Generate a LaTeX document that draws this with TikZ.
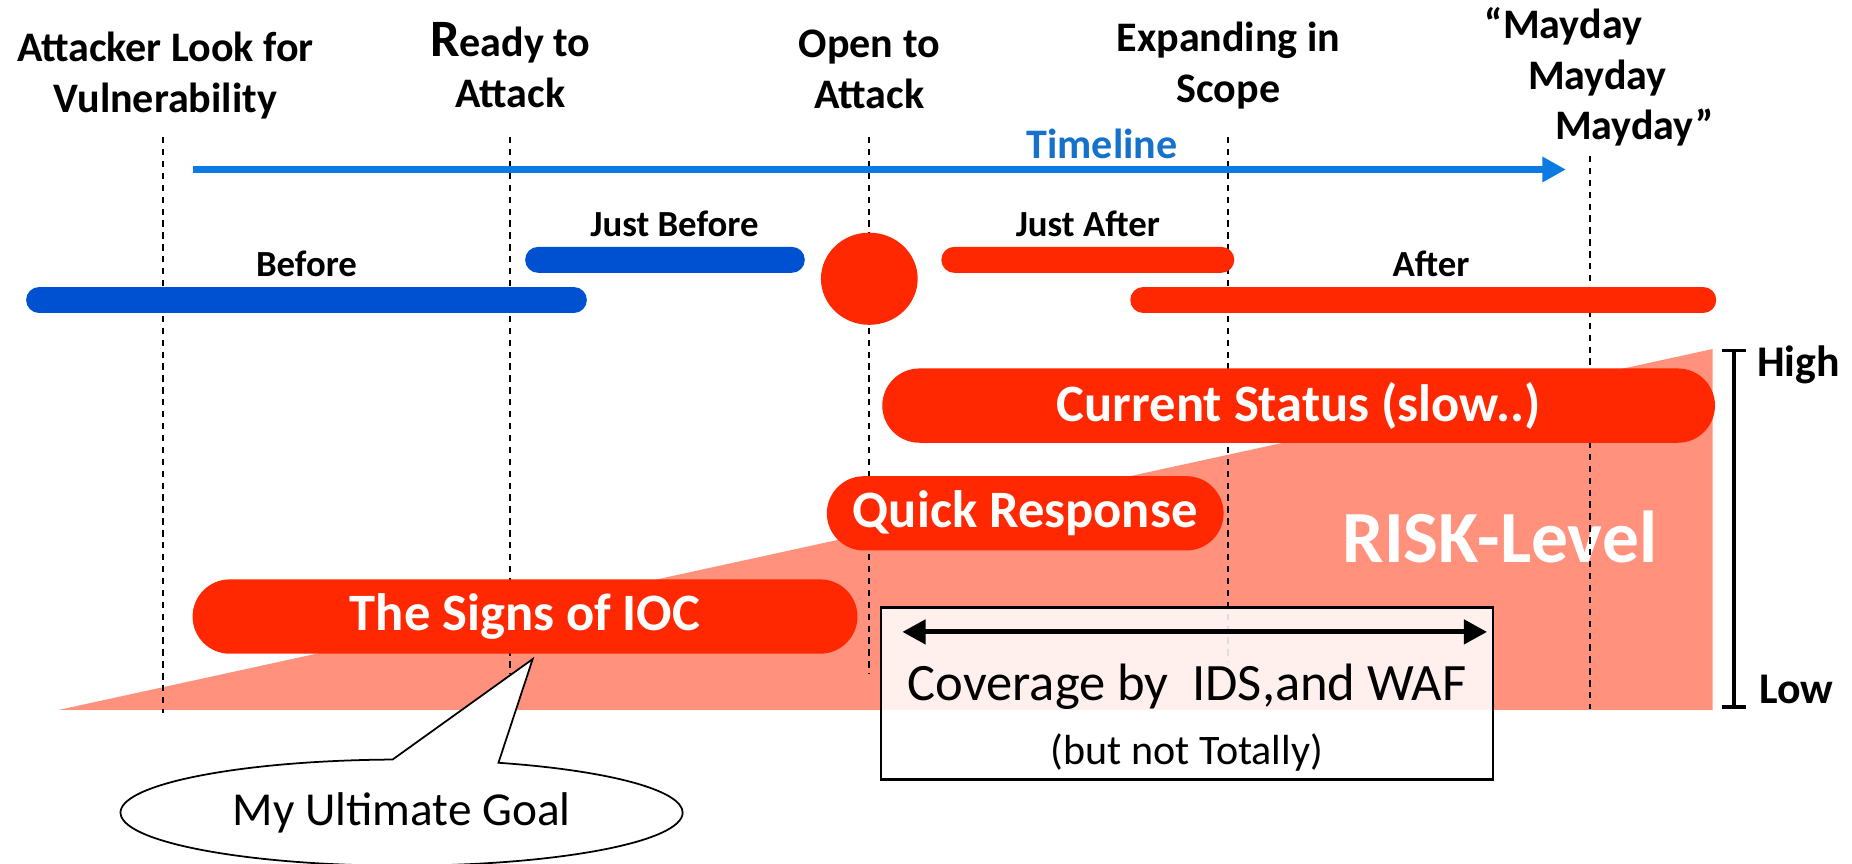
\documentclass[tikz,border=0pt]{standalone}
\usepackage{fontspec}
\setmainfont{Carlito}
\usepackage{tikz}
\usetikzlibrary{arrows.meta,positioning,calc,shapes.geometric,shapes.misc,shapes.callouts}
\definecolor{tlblue}{HTML}{0B7BE3}
\definecolor{tltext}{HTML}{1571C9}
\definecolor{phaseblue}{HTML}{0050D2}
\definecolor{alarm}{HTML}{FF2800}
\definecolor{risk}{HTML}{FF917D}
\tikzset{
  milestone/.style={font=\fontsize{12}{14.5}\selectfont\bfseries,align=center,
    inner sep=0pt,anchor=base},
  guide/.style={draw=black,line width=0.55pt,dash pattern=on 1.8pt off 1.6pt},
  timeline/.style={draw=tlblue,line width=2.2pt,-{Triangle[length=6.7pt,width=6.9pt]}},
  phasebar/.style={rounded rectangle,minimum height=7.4pt,inner sep=0pt},
  phaselabel/.style={font=\fontsize{10.5}{12}\selectfont\bfseries,inner sep=0pt},
  pill/.style={rounded rectangle,fill=alarm,text=white,minimum height=21.2pt,
    inner sep=0pt,font=\fontsize{15}{18}\selectfont\bfseries},
  coverbox/.style={draw=black,line width=0.8pt,fill=white,fill opacity=0.87,
    minimum width=174.6pt,minimum height=49.2pt,inner sep=0pt},
  span/.style={line width=1.4pt,{Triangle[length=6.6pt,width=6.8pt]}-{Triangle[length=6.6pt,width=6.8pt]}},
  scalebar/.style={line width=0.95pt,{Bar[width=6.7pt]}-{Bar[width=6.7pt]}},
  levellabel/.style={font=\fontsize{12.5}{15}\selectfont\bfseries,inner sep=0pt,anchor=base west}
}

\begin{document}
\begin{tikzpicture}[x=0.337pt,y=-0.337pt]
  \useasboundingbox (0,0) rectangle (1568,731);

  % risk wedge
  \fill[risk] (50,601) -- (1450,601) -- (1450,295.5) -- cycle;
  \node[font=\fontsize{21}{24}\selectfont\bfseries,text=white,inner sep=0pt,anchor=base]
    (risklevel) at (1270,476.4) {RISK-Level};

  % guide lines under each milestone
  \foreach \gx/\gy in {138/604,432/571,736/571,1040/560}
    \draw[guide] (\gx,116) -- (\gx,\gy);
  \draw[guide] (1346,132) -- (1346,600);

  % timeline
  \coordinate (tstart) at (163.6,143.5);
  \coordinate (tend) at (1325.7,143.5);
  \draw[timeline] (tstart) -- (tend);
  \node[font=\fontsize{12}{14}\selectfont\bfseries,text=tltext,inner sep=0pt,anchor=base]
    (tllabel) at (933,134.6) {Timeline};

  % phases
  \node[phasebar,fill=phaseblue,minimum width=160pt] (before) at (259.5,254) {};
  \node[phasebar,fill=phaseblue,minimum width=79.8pt] (jbefore) at (563,220) {};
  \node[ellipse,fill=alarm,minimum width=27.6pt,minimum height=26.3pt,inner sep=0pt]
    (incident) at (736,236) {};
  \node[phasebar,fill=alarm,minimum width=83.6pt] (jafter) at (921,220) {};
  \node[phasebar,fill=alarm,minimum width=167.2pt] (after) at (1205,254) {};
  \node[phaselabel,above=2.4pt of before] {Before};
  \node[phaselabel,above=2.4pt of jbefore,xshift=2.7pt] {Just Before};
  \node[phaselabel,above=2.4pt of jafter] {Just After};
  \node[phaselabel,above=2.4pt of after,xshift=2.2pt] {After};

  % responses
  \node[pill,minimum width=237.6pt] (status) at (1099.5,343.4) {Current Status (slow..)};
  \node[pill,minimum width=113.2pt] (quick) at (868,434.6) {Quick Response};
  \node[pill,minimum width=189.7pt] (signs) at (444.5,522) {The Signs of IOC};

  % IDS / WAF coverage
  \node[coverbox] (cover) at (1005,587) {};
  \coordinate (covL) at (764,535);
  \coordinate (covR) at (1259,535);
  \draw[span] (covL) -- (covR);
  \node[font=\fontsize{15}{18}\selectfont,inner sep=0pt,anchor=base] (covtext) at (1005,593)
    {Coverage by\ \ IDS,and WAF};
  \node[font=\fontsize{12}{14}\selectfont,inner sep=0pt,anchor=base] (covnote) at (1005,647)
    {(but not Totally)};

  % goal bubble
  \coordinate (goaltip) at (451,558);
  \node[ellipse callout,draw=black,line width=0.5pt,fill=white,
    minimum width=160.4pt,minimum height=30.3pt,inner sep=0pt,
    callout absolute pointer={(goaltip)},callout pointer arc=22,
    font=\fontsize{13.5}{16}\selectfont] (goal) at (340,688) {My Ultimate Goal};

  % level scale
  \coordinate (hi) at (1468,295.5);
  \coordinate (lo) at (1468,600);
  \draw[scalebar] (hi) -- (lo);
  \node[levellabel] (high) at (1487,319) {High};
  \node[levellabel] (low) at (1489,595.5) {Low};

  % milestones (anchored on the last line)
  \node[milestone] (lookfor) at (140,95) {Attacker Look for\\Vulnerability};
  \node[milestone] (ready) at (432,91) {{\fontsize{15}{14.5}\selectfont R}eady to\\Attack};
  \node[milestone] (open) at (736,92) {Open to\\Attack};
  \node[milestone] (expand) at (1040,87) {Expanding in\\Scope};
  \node[milestone,align=left,anchor=base west] (mayday) at (1256.6,118.5)
    {“Mayday\\\hspace*{12.3pt}Mayday\\\hspace*{20pt}Mayday”};
\end{tikzpicture}
\end{document}
